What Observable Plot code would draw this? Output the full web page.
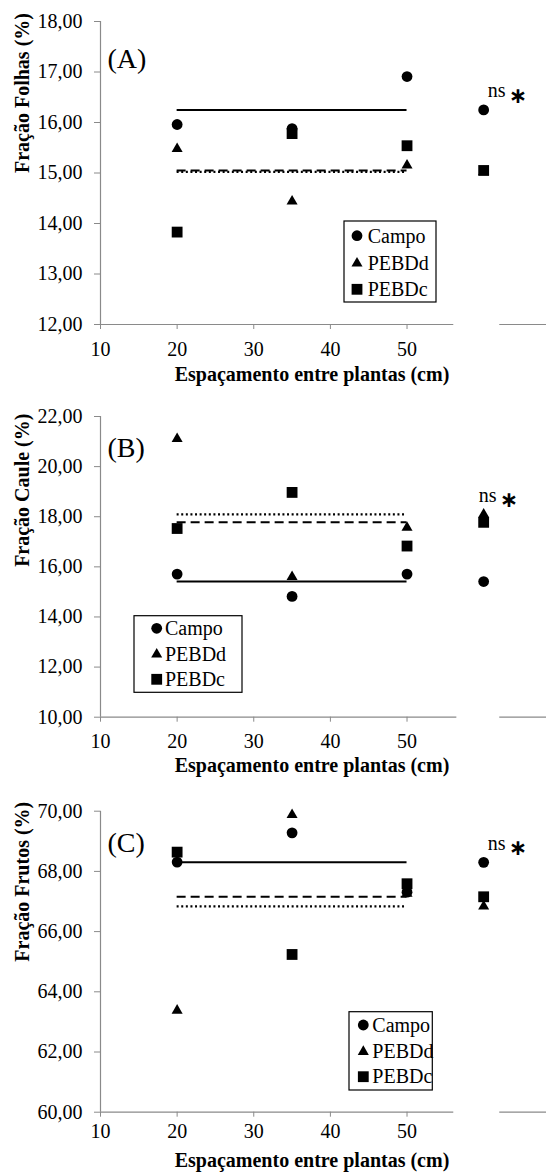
<!DOCTYPE html>
<html>
<head>
<meta charset="utf-8">
<script src="https://cdn.jsdelivr.net/npm/d3@7"></script>
<script src="https://cdn.jsdelivr.net/npm/@observablehq/plot@0.6"></script>
<style>
  html, body { margin: 0; padding: 0; background: white; }
  #chart { width: 546px; }
  #chart svg { display: block; }
  #chart svg text.legend-label { font-family: 'Liberation Serif', 'Times New Roman', serif; font-size: 20px; text-anchor: start; }
</style>
</head>
<body>
<div id="chart"></div>
<script>
// Plant spacing (cm) and the extra column where the treatment means are shown
const spacing = [20, 35, 50];
const meanColumn = 60;
const treatments = ["Campo", "PEBDd", "PEBDc"];
const xTicks = [10, 20, 30, 40, 50];

// (A) Fração Folhas (%)
const folhasCampo = [15.96, 15.88, 16.91];
const folhasPEBDd = [15.48, 14.44, 15.15];
const folhasPEBDc = [13.83, 15.78, 15.54];
const folhasTicks = [12, 13, 14, 15, 16, 17, 18];

// (B) Fração Caule (%)
const cauleCampo = [15.71, 14.82, 15.71];
const caulePEBDd = [21.11, 15.60, 17.57];
const caulePEBDc = [17.53, 18.97, 16.83];
const cauleTicks = [10, 12, 14, 16, 18, 20, 22];

// (C) Fração Frutos (%)
const frutosCampo = [68.31, 69.28, 67.31];
const frutosPEBDd = [63.38, 69.88, 67.26];
const frutosPEBDc = [68.64, 65.24, 67.59];
const frutosTicks = [60, 62, 64, 66, 68, 70];

const significance = "ns";

const serif = "'Liberation Serif', 'Times New Roman', serif";
const axisGray = "#8a8a8a";
const symbols = [
  {name: "circle", d3: d3.symbolCircle, r: 5.4},
  {name: "triangle", d3: d3.symbolTriangle, r: 4.1},
  {name: "square", d3: d3.symbolSquare, r: 6.1}
];
const lineStyles = [
  {strokeDasharray: null, strokeWidth: 2},
  {strokeDasharray: "2,2.6", strokeWidth: 2.2},
  {strokeDasharray: "9,5", strokeWidth: 2}
];

const fmt = d => d.toFixed(2).replace(".", ",");

function drawPanel(p) {
  const series = p.series.map((vals, i) => {
    const mean = d3.mean(vals);
    return {
      name: treatments[i],
      points: vals.map((v, j) => ({x: spacing[j], y: v})).concat([{x: meanColumn, y: mean}]),
      mean
    };
  });
  const topMean = d3.max(series, s => s.mean);

  const marks = [
    Plot.ruleX([10], {stroke: axisGray, strokeWidth: 1.2}),
    ...p.axisSegments.map(([a, b]) => Plot.ruleY([p.yDomain[0]], {x1: a, x2: b, stroke: axisGray, strokeWidth: 1.2})),
    Plot.axisY({ticks: p.yTicks, tickFormat: fmt, tickSize: 6, tickPadding: 12, stroke: axisGray, fill: "black", fontSize: 20, label: null}),
    Plot.axisX({ticks: xTicks, tickSize: 5, tickPadding: p.xTickPad, stroke: axisGray, fill: "black", fontSize: 20, label: null}),
    // mean of each treatment across spacings: solid Campo, dotted PEBDd, dashed PEBDc
    ...series.map((s, i) => Plot.ruleY([s.mean], {
      x1: spacing[0], x2: spacing[spacing.length - 1],
      stroke: "black", strokeWidth: lineStyles[i].strokeWidth,
      strokeDasharray: lineStyles[i].strokeDasharray
    })),
    ...series.map((s, i) => Plot.dot(s.points, {
      x: "x", y: "y", symbol: symbols[i].name, r: symbols[i].r, fill: "black", stroke: "none"
    })),
    Plot.text([p.tag], {frameAnchor: "top-left", dx: 7, dy: p.tagDy, textAnchor: "start", fontSize: 28}),
    Plot.text([{x: meanColumn, y: topMean}], {x: "x", y: "y", text: () => significance, dx: p.nsDx, dy: -19, textAnchor: "start", fontSize: 20}),
    Plot.text([{x: meanColumn, y: topMean}], {x: "x", y: "y", text: () => "∗", dx: p.nsDx + 21, dy: -14, textAnchor: "start", fontSize: 22, fontWeight: "bold", fontFamily: "DejaVu Sans"}),
    Plot.text(["Espaçamento entre plantas (cm)"], {frameAnchor: "bottom", dx: -11.5, dy: p.xTitleDy, fontSize: 20, fontWeight: "bold"}),
    Plot.text([p.yTitle], {frameAnchor: "left", dx: -78, rotate: -90, fontSize: 20, fontWeight: "bold"})
  ];

  const svg = Plot.plot({
    width: 546,
    height: p.height,
    marginLeft: 100,
    marginRight: 0,
    marginTop: p.marginTop,
    marginBottom: p.marginBottom,
    x: {domain: [10, 68.2]},
    y: {domain: p.yDomain},
    style: {fontFamily: serif, fontSize: "20px", color: "black", background: "white", overflow: "visible"},
    marks
  });

  // legend box
  const L = p.legend;
  const g = d3.select(svg).append("g").attr("transform", `translate(${L.x},${L.y})`);
  g.append("rect").attr("width", L.w).attr("height", L.h)
    .attr("fill", "white").attr("stroke", "black").attr("stroke-width", 1.2);
  treatments.forEach((name, i) => {
    const cy = L.rows[i];
    g.append("path")
      .attr("transform", `translate(${L.mx},${cy})`)
      .attr("d", d3.symbol(symbols[i].d3, Math.PI * symbols[i].r ** 2)())
      .attr("fill", "black");
    g.append("text")
      .attr("class", "legend-label")
      .attr("x", L.tx).attr("y", cy).attr("dy", "0.34em")
      .attr("fill", "black")
      .text(name);
  });

  document.getElementById("chart").appendChild(svg);
}

drawPanel({
  tag: "(A)", yTitle: "Fração Folhas (%)",
  series: [folhasCampo, folhasPEBDd, folhasPEBDc],
  yDomain: [12, 18], yTicks: folhasTicks,
  height: 390, marginTop: 21, marginBottom: 66,
  xTickPad: 12.5, xTitleDy: 56, tagDy: 26.5, nsDx: 4,
  axisSegments: [[10, 56.1], [62.1, 68.2]],
  legend: {x: 344, y: 221, w: 92, h: 81, rows: [14.7, 42.3, 68.3], mx: 13, tx: 23.7}
});

drawPanel({
  tag: "(B)", yTitle: "Fração Caule (%)",
  series: [cauleCampo, caulePEBDd, caulePEBDc],
  yDomain: [10, 22], yTicks: cauleTicks,
  height: 390, marginTop: 26, marginBottom: 63.3,
  xTickPad: 12, xTitleDy: 55, tagDy: 20.7, nsDx: -5,
  axisSegments: [[10, 56.5], [62.1, 68.2]],
  legend: {x: 134, y: 225.7, w: 108, h: 76.6, rows: [12.6, 38.6, 63.6], mx: 22.7, tx: 31}
});

drawPanel({
  tag: "(C)", yTitle: "Fração Frutos (%)",
  series: [frutosCampo, frutosPEBDd, frutosPEBDc],
  yDomain: [60, 70], yTicks: frutosTicks,
  height: 395, marginTop: 30.7, marginBottom: 63.3,
  xTickPad: 6.5, xTitleDy: 55, tagDy: 21, nsDx: 4,
  axisSegments: [[10, 56.1], [62.1, 68.2]],
  legend: {x: 349, y: 231.7, w: 83.3, h: 78.3, rows: [13.3, 40, 65], mx: 14.3, tx: 23.3}
});
</script>
</body>
</html>
